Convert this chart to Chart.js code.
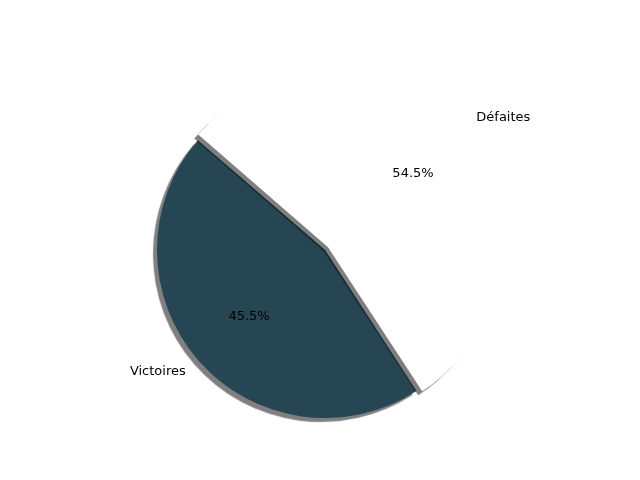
<!DOCTYPE html>
<html><head><meta charset="utf-8">
<script src="https://cdn.jsdelivr.net/npm/chart.js"></script>
<style>body{margin:0;background:#fff}#w{width:640px;height:480px}</style>
</head><body><div id="w"><canvas id="c"></canvas></div>
<script>
const labels = ['Victoires', 'Défaites'];
const values = [45.5, 54.5];
const colors = ['#264653', '#ffffff'];
const offsets = [0, 16];

const shadow = {
  id: 'shadow',
  beforeDatasetDraw(chart) {
    const c = chart.ctx; c.save();
    c.shadowColor = 'rgba(0,0,0,0.5)'; c.shadowBlur = 1;
    c.shadowOffsetX = -4; c.shadowOffsetY = 4;
  },
  afterDatasetDraw(chart) { chart.ctx.restore(); }
};
const lbl = {
  id: 'lbl',
  afterDraw(chart) {
    const c = chart.ctx, meta = chart.getDatasetMeta(0);
    const total = values.reduce((a, b) => a + b, 0);
    c.save(); c.font = '13px "DejaVu Sans"'; c.fillStyle = '#000'; c.textBaseline = 'middle';
    meta.data.forEach((a, i) => {
      const mid = (a.startAngle + a.endAngle) / 2;
      const off = offsets[i];
      const cx = a.x + Math.cos(mid) * off, cy = a.y + Math.sin(mid) * off;
      const r = a.outerRadius;
      c.textAlign = 'center';
      c.fillText((values[i] / total * 100).toFixed(1) + '%', cx + Math.cos(mid) * r * 0.6, cy + Math.sin(mid) * r * 0.6);
      const lx = cx + Math.cos(mid) * r * 1.1, ly = cy + Math.sin(mid) * r * 1.1;
      c.textAlign = Math.cos(mid) < 0 ? 'right' : 'left';
      c.fillText(labels[i], lx, ly);
    });
    c.restore();
  }
};
new Chart(document.getElementById('c'), {
  type: 'pie',
  data: { labels, datasets: [{ data: values, backgroundColor: colors, borderWidth: 0, offset: offsets }] },
  options: {
    responsive: true, maintainAspectRatio: false, animation: false,
    rotation: 147,
    layout: { padding: { top: 74, bottom: 54, left: 149, right: 139 } },
    plugins: { legend: { display: false }, tooltip: { enabled: false } }
  },
  plugins: [shadow, lbl]
});
</script></body></html>
